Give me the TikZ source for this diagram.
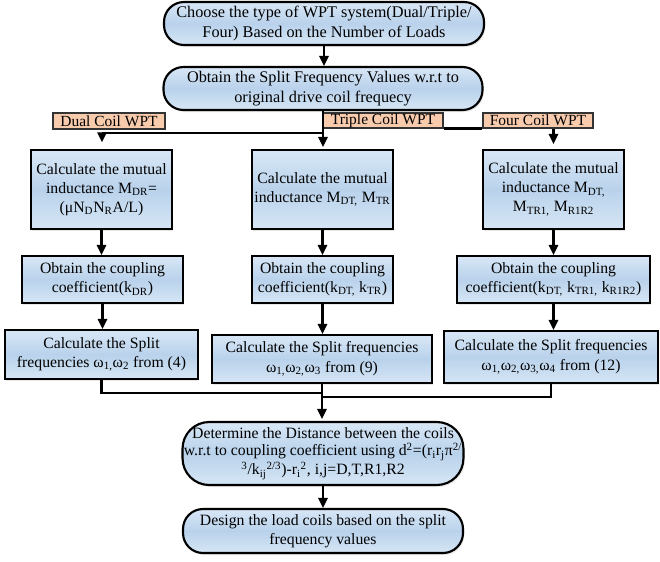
\documentclass[tikz,border=0pt]{standalone}
\usepackage{fontspec}
\setmainfont{Liberation Serif}
\usetikzlibrary{arrows.meta,shadows}
\definecolor{cbluetop}{HTML}{D8E7F6}
\definecolor{cbluemid}{HTML}{B9D2EB}
\definecolor{cbluebot}{HTML}{D6E6F5}
\definecolor{csalmon}{HTML}{F8CBAD}

\tikzset{
	flowbox/.style={draw=black, line width=1.6pt, align=center, inner sep=1pt,
		top color=cbluetop, bottom color=cbluebot, middle color=cbluemid,
		drop shadow={opacity=0.18, shadow xshift=1pt, shadow yshift=-1.5pt},
		font=\fontsize{11.8}{14.3}\selectfont},
	pillbox/.style={flowbox, rounded corners=15pt},
	tagbox/.style={draw=black!80, line width=0.8pt, fill=csalmon, inner sep=0pt,
		font=\fontsize{11.6}{13}\selectfont},
	wire/.style={line width=1.6pt},
	arr/.style={line width=1.6pt, -{Triangle[width=7pt,length=7.5pt]}}
}

\begin{document}
\begin{tikzpicture}[x=0.75pt, y=-0.75pt]
			\useasboundingbox (0,0) rectangle (660,561);

			\node[pillbox, minimum width=240pt, minimum height=32.25pt, font=\fontsize{12.2}{14.8}\selectfont] (choose) at (324,23.5)
				{Choose the type of WPT system(Dual/Triple/\\Four) Based on the Number of Loads};
			\node[pillbox, minimum width=239.25pt, minimum height=32.25pt, font=\fontsize{12.2}{14.8}\selectfont] (obtain) at (323,88.5)
				{Obtain the Split Frequency Values w.r.t to\\original drive coil frequecy};

			\node[tagbox, minimum width=84pt, minimum height=12pt] (dual) at (109,121) {Dual Coil WPT};
			\node[tagbox, minimum width=90pt, minimum height=11.25pt] (tri) at (383,120.5) {Triple Coil WPT};
			\node[tagbox, minimum width=82.5pt, minimum height=11.25pt] (four) at (538,120.5) {Four Coil WPT};

			\node[flowbox, minimum width=105.75pt, minimum height=59.25pt] (mutD) at (101.5,189.5)
				{Calculate the mutual\\inductance M\textsubscript{DR}=\\(μN\textsubscript{D}N\textsubscript{R}A/L)};
			\node[flowbox, minimum width=105.75pt, minimum height=59.25pt] (mutT) at (322.5,189.5)
				{Calculate the mutual\\inductance M\textsubscript{DT,} M\textsubscript{TR}};
			\node[flowbox, minimum width=105.75pt, minimum height=59.25pt] (mutF) at (553.5,189.5)
				{Calculate the mutual\\inductance M\textsubscript{DT,}\\M\textsubscript{TR1,} M\textsubscript{R1R2}};

			\node[flowbox, minimum width=120.75pt, minimum height=35.25pt] (cplD) at (102.5,279.5)
				{Obtain the coupling\\coefficient(k\textsubscript{DR})};
			\node[flowbox, minimum width=105.75pt, minimum height=35.25pt] (cplT) at (322.5,279.5)
				{Obtain the coupling\\coefficient(k\textsubscript{DT,} k\textsubscript{TR})};
			\node[flowbox, minimum width=144.75pt, minimum height=35.25pt] (cplF) at (553.5,279.5)
				{Obtain the coupling\\coefficient(k\textsubscript{DT,} k\textsubscript{TR1,} k\textsubscript{R1R2})};

			\node[flowbox, minimum width=144.75pt, minimum height=36.75pt] (splD) at (101.5,354.5)
				{Calculate the Split\\frequencies ω\textsubscript{1,}ω\textsubscript{2} from (4)};
			\node[flowbox, minimum width=165pt, minimum height=36pt] (splT) at (322,359)
				{Calculate the Split frequencies\\ω\textsubscript{1,}ω\textsubscript{2,}ω\textsubscript{3} from (9)};
			\node[flowbox, minimum width=160.5pt, minimum height=39pt] (splF) at (551,357)
				{Calculate the Split frequencies\\ω\textsubscript{1,}ω\textsubscript{2,}ω\textsubscript{3,}ω\textsubscript{4} from (12)};

			\node[pillbox, rounded corners=20pt, minimum width=210pt, minimum height=47.25pt,
				font=\fontsize{11.8}{13.2}\selectfont] (dist) at (323,453.5)
				{Determine the Distance between the coils\\w.r.t to coupling coefficient using d\textsuperscript{2}=(r\textsubscript{i}r\textsubscript{j}π\textsuperscript{2/}\\\textsuperscript{3}/k\textsubscript{ij}\textsuperscript{2/3})-r\textsubscript{i}\textsuperscript{2}, i,j=D,T,R1,R2};
			\node[pillbox, minimum width=210pt, minimum height=33pt] (design) at (323,531)
				{Design the load coils based on the split\\frequency values};

			\coordinate (busD) at (102,133);
			\coordinate (busL) at (102,393);
			\coordinate (busR) at (554,397);

			\draw[arr] (choose.south) -- (choose.south |- obtain.north);
			\draw[arr, shorten >=1.5pt] (obtain.south) -- (obtain.south |- mutT.north);
			\draw[wire] (obtain.south |- busD) -- (busD);
			\draw[arr, shorten >=5pt] (busD) -- (busD |- mutD.north);
			\draw[wire] (tri.south east) -- (four.south west);
			\draw[arr, shorten >=3.75pt] (four.south -| mutF) -- (mutF.north);

			\foreach \c in {D,T,F} {
				\draw[arr] (mut\c.south) -- (mut\c.south |- cpl\c.north);
				\draw[arr] (cpl\c.south) -- (cpl\c.south |- spl\c.north);
			}

			\draw[wire] (splD.south) |- (dist.north |- busL);
			\draw[wire] (splF.south) |- (dist.north |- busR);
			\draw[arr, shorten >=1.5pt] (splT.south) -- (splT.south |- dist.north);
			\draw[arr] (dist.south) -- (design.north);
		\end{tikzpicture}
\end{document}
